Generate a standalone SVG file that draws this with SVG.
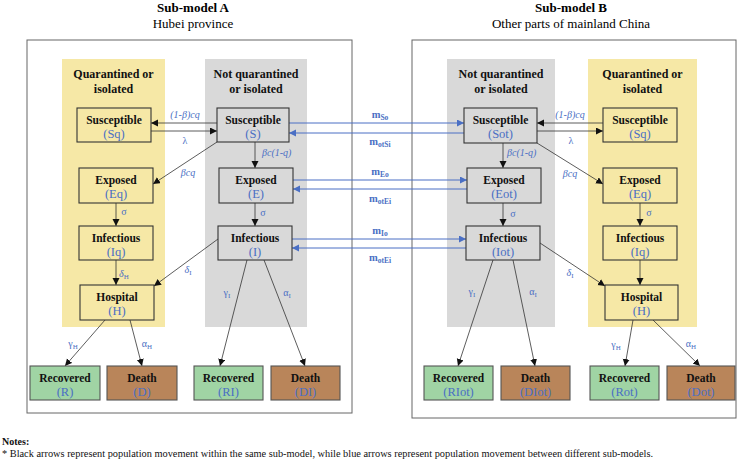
<svg xmlns="http://www.w3.org/2000/svg" width="738" height="460" viewBox="0 0 738 460" font-family="'Liberation Serif','Times New Roman',serif">
<style>
text{font-family:"Liberation Serif","Times New Roman",serif}
.ttl{font-size:13px;font-weight:bold;text-anchor:middle;fill:#000}
.sub{font-size:13px;text-anchor:middle;fill:#000}
.hdr{font-size:12px;font-weight:bold;text-anchor:middle;fill:#111}
.nt{font-size:11.5px;font-weight:bold;text-anchor:middle;fill:#111}
.nv{font-size:12.5px;text-anchor:middle;fill:#4a6fc4}
.lb{font-size:10px;fill:#4a6fc4;text-anchor:middle}
.it{font-style:italic}
.ml{font-size:10.5px;font-weight:bold;fill:#4a6fc4;text-anchor:middle}
.box{fill:#fff;stroke:#666;stroke-width:1}
.yb{fill:#F6E8A6}
.gb{fill:#D9D9D9}
.ny{fill:#F6E8A6;stroke:#333;stroke-width:1.1}
.ng{fill:#D9D9D9;stroke:#333;stroke-width:1.1}
.nr{fill:#A0D4A4;stroke:#555;stroke-width:1.1}
.nd{fill:#B9855A;stroke:#555;stroke-width:1.1}
.k{stroke:#333;stroke-width:0.8;fill:none;marker-end:url(#ak)}
.b{stroke:#4a6fc4;stroke-width:1;fill:none;marker-end:url(#ab)}
.note{font-size:10px;fill:#111}
</style>
<defs>
<marker id="ak" markerUnits="userSpaceOnUse" markerWidth="8" markerHeight="8" refX="7" refY="3.5" orient="auto"><path d="M0,0 L7,3.5 L0,7 z" fill="#111"/></marker>
<marker id="ab" markerUnits="userSpaceOnUse" markerWidth="8" markerHeight="8" refX="7" refY="3.5" orient="auto"><path d="M0,0 L7,3.5 L0,7 z" fill="#4a6fc4"/></marker>
</defs>
<rect width="738" height="460" fill="#fff"/>

<g id="submodelA">
<text class="ttl" x="193" y="12">Sub-model A</text>
<text class="sub" x="193" y="28">Hubei province</text>
<rect class="box" x="27" y="40" width="325" height="373"/>
<rect class="yb" x="62" y="59" width="103" height="268"/>
<rect class="gb" x="205" y="59" width="102" height="268"/>
<text class="hdr" x="113.5" y="78">Quarantined or</text>
<text class="hdr" x="113.5" y="93">isolated</text>
<text class="hdr" x="256" y="78">Not quarantined</text>
<text class="hdr" x="256" y="93">or isolated</text>
</g>

<g id="submodelB">
<text class="ttl" x="571" y="12">Sub-model B</text>
<text class="sub" x="571" y="28">Other parts of mainland China</text>
<rect class="box" x="412" y="40" width="324" height="378"/>
<rect class="gb" x="447" y="59" width="108" height="268"/>
<rect class="yb" x="588" y="59" width="109" height="268"/>
<text class="hdr" x="501" y="78">Not quarantined</text>
<text class="hdr" x="501" y="93">or isolated</text>
<text class="hdr" x="642.5" y="78">Quarantined or</text>
<text class="hdr" x="642.5" y="93">isolated</text>
</g>

<g id="connectors">
<!-- A side black -->
<line class="k" x1="217" y1="123" x2="151" y2="123"/>
<line class="k" x1="151" y1="131" x2="217" y2="131"/>
<line class="k" x1="255" y1="142" x2="255" y2="168"/>
<line class="k" x1="217" y1="142" x2="153" y2="184"/>
<line class="k" x1="255" y1="203" x2="255" y2="226"/>
<line class="k" x1="116" y1="203" x2="116" y2="226"/>
<line class="k" x1="116" y1="260" x2="116" y2="285"/>
<line class="k" x1="218" y1="239" x2="154" y2="286"/>
<line class="k" x1="247" y1="260" x2="220" y2="366"/>
<line class="k" x1="264" y1="260" x2="305" y2="366"/>
<line class="k" x1="105" y1="320" x2="65" y2="366"/>
<line class="k" x1="130" y1="320" x2="142" y2="366"/>
<!-- B side black -->
<line class="k" x1="603" y1="123" x2="537" y2="123"/>
<line class="k" x1="537" y1="131" x2="603" y2="131"/>
<line class="k" x1="503" y1="143" x2="503" y2="168"/>
<line class="k" x1="537" y1="143" x2="603" y2="184"/>
<line class="k" x1="503" y1="203" x2="503" y2="226"/>
<line class="k" x1="640" y1="203" x2="640" y2="226"/>
<line class="k" x1="640" y1="260" x2="640" y2="285"/>
<line class="k" x1="540" y1="243" x2="605" y2="286"/>
<line class="k" x1="493" y1="260" x2="458" y2="366"/>
<line class="k" x1="513" y1="260" x2="535" y2="366"/>
<line class="k" x1="633" y1="320" x2="625" y2="366"/>
<line class="k" x1="653" y1="320" x2="700" y2="366"/>
<!-- blue -->
<line class="b" x1="289" y1="123" x2="464" y2="123"/>
<line class="b" x1="464" y1="133" x2="289" y2="133"/>
<line class="b" x1="293" y1="180" x2="467" y2="180"/>
<line class="b" x1="467" y1="189" x2="293" y2="189"/>
<line class="b" x1="292" y1="239" x2="466" y2="239"/>
<line class="b" x1="466" y1="248" x2="292" y2="248"/>
<!-- labels A -->
<text class="lb it" x="185" y="118">(1-β)cq</text>
<text class="lb" x="185" y="144">λ</text>
<text class="lb it" x="262" y="156" style="text-anchor:start">βc(1-q)</text>
<text class="lb it" x="188" y="176">βcq</text>
<text class="lb" x="263" y="216">σ</text>
<text class="lb" x="124" y="215">σ</text>
<text class="lb it" x="119" y="277" style="text-anchor:start">δ<tspan font-size="7" dy="2" font-style="normal">H</tspan></text>
<text class="lb it" x="188" y="273">δ<tspan font-size="7" dy="2" font-style="normal">I</tspan></text>
<text class="lb" x="227" y="296">γ<tspan font-size="7" dy="2">I</tspan></text>
<text class="lb" x="287" y="296">α<tspan font-size="7" dy="2">I</tspan></text>
<text class="lb" x="73" y="347">γ<tspan font-size="7" dy="2">H</tspan></text>
<text class="lb" x="147" y="347">α<tspan font-size="7" dy="2">H</tspan></text>
<!-- labels B -->
<text class="lb it" x="570" y="118">(1-β)cq</text>
<text class="lb" x="571" y="144">λ</text>
<text class="lb it" x="507" y="156" style="text-anchor:start">βc(1-q)</text>
<text class="lb it" x="570" y="177">βcq</text>
<text class="lb" x="513" y="217">σ</text>
<text class="lb" x="649" y="216">σ</text>
<text class="lb it" x="570" y="276">δ<tspan font-size="7" dy="2" font-style="normal">I</tspan></text>
<text class="lb" x="472" y="295">γ<tspan font-size="7" dy="2">I</tspan></text>
<text class="lb" x="533" y="295">α<tspan font-size="7" dy="2">I</tspan></text>
<text class="lb" x="616" y="348">γ<tspan font-size="7" dy="2">H</tspan></text>
<text class="lb" x="691" y="347">α<tspan font-size="7" dy="2">H</tspan></text>
<!-- blue labels -->
<text class="ml" x="380" y="118">m<tspan font-size="7.5" dy="2">So</tspan></text>
<text class="ml" x="380" y="145">m<tspan font-size="7.5" dy="2">otSi</tspan></text>
<text class="ml" x="380" y="175">m<tspan font-size="7.5" dy="2">Eo</tspan></text>
<text class="ml" x="380" y="202">m<tspan font-size="7.5" dy="2">otEi</tspan></text>
<text class="ml" x="380" y="234">m<tspan font-size="7.5" dy="2">Io</tspan></text>
<text class="ml" x="380" y="261">m<tspan font-size="7.5" dy="2">otEi</tspan></text>
</g>

<g id="node-Sq-A"><rect class="ny" x="77" y="108" width="74" height="34"/><text class="nt" x="114" y="124">Susceptible</text><text class="nv" x="114" y="138">(Sq)</text></g>
<g id="node-S"><rect class="ng" x="217" y="108" width="72" height="34"/><text class="nt" x="253" y="124">Susceptible</text><text class="nv" x="253" y="138">(S)</text></g>
<g id="node-Eq-A"><rect class="ny" x="79" y="168" width="74" height="35"/><text class="nt" x="116" y="184">Exposed</text><text class="nv" x="116" y="198">(Eq)</text></g>
<g id="node-E"><rect class="ng" x="219" y="168" width="74" height="35"/><text class="nt" x="256" y="184">Exposed</text><text class="nv" x="256" y="198">(E)</text></g>
<g id="node-Iq-A"><rect class="ny" x="79" y="226" width="74" height="34"/><text class="nt" x="116" y="242">Infectious</text><text class="nv" x="116" y="256">(Iq)</text></g>
<g id="node-I"><rect class="ng" x="218" y="226" width="74" height="34"/><text class="nt" x="255" y="242">Infectious</text><text class="nv" x="255" y="256">(I)</text></g>
<g id="node-H-A"><rect class="ny" x="80" y="285" width="74" height="35"/><text class="nt" x="117" y="301">Hospital</text><text class="nv" x="117" y="315">(H)</text></g>
<g id="node-R"><rect class="nr" x="30" y="366" width="70" height="34"/><text class="nt" x="65" y="382">Recovered</text><text class="nv" x="65" y="396">(R)</text></g>
<g id="node-D"><rect class="nd" x="107" y="366" width="70" height="34"/><text class="nt" x="142" y="382">Death</text><text class="nv" x="142" y="396">(D)</text></g>
<g id="node-RI"><rect class="nr" x="194" y="366" width="69" height="34"/><text class="nt" x="228.5" y="382">Recovered</text><text class="nv" x="228.5" y="396">(RI)</text></g>
<g id="node-DI"><rect class="nd" x="271" y="366" width="69" height="34"/><text class="nt" x="305.5" y="382">Death</text><text class="nv" x="305.5" y="396">(DI)</text></g>

<g id="node-Sot"><rect class="ng" x="464" y="108" width="73" height="35"/><text class="nt" x="500.5" y="124">Susceptible</text><text class="nv" x="500.5" y="138">(Sot)</text></g>
<g id="node-Sq-B"><rect class="ny" x="603" y="108" width="74" height="34"/><text class="nt" x="640" y="124">Susceptible</text><text class="nv" x="640" y="138">(Sq)</text></g>
<g id="node-Eot"><rect class="ng" x="467" y="168" width="74" height="35"/><text class="nt" x="504" y="184">Exposed</text><text class="nv" x="504" y="198">(Eot)</text></g>
<g id="node-Eq-B"><rect class="ny" x="603" y="168" width="74" height="35"/><text class="nt" x="640" y="184">Exposed</text><text class="nv" x="640" y="198">(Eq)</text></g>
<g id="node-Iot"><rect class="ng" x="466" y="226" width="74" height="34"/><text class="nt" x="503" y="242">Infectious</text><text class="nv" x="503" y="256">(Iot)</text></g>
<g id="node-Iq-B"><rect class="ny" x="603" y="226" width="74" height="34"/><text class="nt" x="640" y="242">Infectious</text><text class="nv" x="640" y="256">(Iq)</text></g>
<g id="node-H-B"><rect class="ny" x="605" y="285" width="73" height="35"/><text class="nt" x="641.5" y="301">Hospital</text><text class="nv" x="641.5" y="315">(H)</text></g>
<g id="node-RIot"><rect class="nr" x="424" y="366" width="69" height="34"/><text class="nt" x="458.5" y="382">Recovered</text><text class="nv" x="458.5" y="396">(RIot)</text></g>
<g id="node-DIot"><rect class="nd" x="501" y="366" width="69" height="34"/><text class="nt" x="535.5" y="382">Death</text><text class="nv" x="535.5" y="396">(DIot)</text></g>
<g id="node-Rot"><rect class="nr" x="590" y="366" width="69" height="34"/><text class="nt" x="624.5" y="382">Recovered</text><text class="nv" x="624.5" y="396">(Rot)</text></g>
<g id="node-Dot"><rect class="nd" x="667" y="366" width="68" height="34"/><text class="nt" x="701" y="382">Death</text><text class="nv" x="701" y="396">(Dot)</text></g>

<g id="notes">
<text class="note" x="2" y="445" font-weight="bold">Notes:</text>
<text class="note" x="2" y="457" textLength="651" lengthAdjust="spacingAndGlyphs">* Black arrows represent population movement within the same sub-model, while blue arrows represent population movement between different sub-models.</text>
</g>
</svg>
